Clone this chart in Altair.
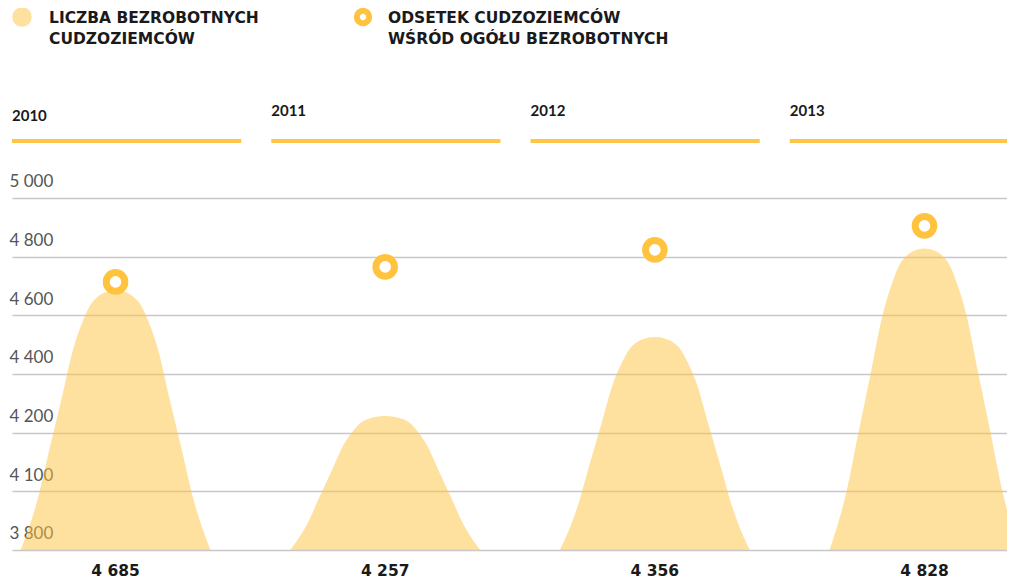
import altair as alt
import pandas as pd

# ---- data ----
years = [2010, 2011, 2012, 2013]
value_labels = [4685, 4257, 4356, 4828]        # printed under each hill
area_peak = [4685, 4257, 4526, 4828]           # drawn hill heights (axis units)
ring_level = [4714, 4765, 4823, 4905]          # ring markers (axis units)
y_ticks = [3800, 4000, 4200, 4400, 4600, 4800, 5000]
base_value = 3800

# hill profile: offset from centre (years) -> share of height
profile_offset = [0.0, 0.037, 0.067, 0.093, 0.122, 0.156, 0.200, 0.245, 0.289, 0.352]
profile_share = [1.0, 0.993, 0.975, 0.945, 0.88, 0.778, 0.584, 0.389, 0.195, 0.0]

legend_1 = "LICZBA BEZROBOTNYCH\nCUDZOZIEMCÓW"
legend_2 = "ODSETEK CUDZOZIEMCÓW\nWŚRÓD OGÓŁU BEZROBOTNYCH"

# ---- tables ----
rows = []
for yr, pk in zip(years, area_peak):
    for sign in (-1, 1):
        for off, sh in zip(profile_offset, profile_share):
            if sign == 1 and off == 0:
                continue
            rows.append({"year": yr, "x": yr + sign * off,
                         "v": base_value + sh * (pk - base_value)})
hills = pd.DataFrame(rows)
points = pd.DataFrame({"year": years, "ring": ring_level,
                       "label": [f"{v:,}".replace(",", " ") for v in value_labels]})
header = pd.DataFrame({"year": years})
one = pd.DataFrame({"k": [0]})

AREA = "#FFC340"
RING = "#FFC340"
LINE = "#FFC549"
DARK = "#1a1a1a"

xs = alt.Scale(domain=[2009.616, 2013.306], nice=False, zero=False)
ys = alt.Scale(domain=[3697.7, 5647.7], nice=False, zero=False)

yaxis = alt.Axis(
    values=y_ticks, grid=True, gridColor="#c8c8c8", gridWidth=1.5,
    domain=False, ticks=False, tickSize=0, labelAlign="left", labelPadding=3,
    labelBaseline="alphabetic", labelOffset=-11, labelFont="Lato",
    labelFontSize=17, labelColor="#555555", labelFlush=False, labelOverlap=False,
    labelExpr="datum.value == 4000 ? '4 100' : replace(format(datum.value, ','), ',', ' ')",
    title=None,
)

area = alt.Chart(hills).mark_area(color=AREA, opacity=0.5, interpolate="monotone", clip=True).encode(
    x=alt.X("x:Q", scale=xs, axis=None),
    y=alt.Y("v:Q", scale=ys, axis=yaxis),
    y2=alt.datum(base_value),
    detail="year:N",
)

rings = alt.Chart(points).mark_point(
    shape="circle", filled=True, fill="white", stroke=RING, strokeWidth=7,
    size=346, opacity=1,
).encode(
    x=alt.X("year:Q", scale=xs, axis=None),
    y=alt.Y("ring:Q", scale=ys),
)

labels = alt.Chart(points).mark_text(
    font="DejaVu Sans", fontWeight="bold", fontSize=15.5, color=DARK, baseline="alphabetic",
).encode(
    x=alt.X("year:Q", scale=xs, axis=None),
    y=alt.value(568),
    text="label:N",
)

main = alt.layer(area, rings, labels)

hscale = alt.Scale(range=[0, 1007], paddingInner=0.116, paddingOuter=0)
hbar = alt.Chart(header).mark_bar(color=LINE).encode(
    x=alt.X("year:O", scale=hscale, axis=None),
    y=alt.value(131), y2=alt.value(135),
)
htext_a = alt.Chart(header).transform_filter("datum.year == 2010").mark_text(
    align="left", baseline="middle", font="Lato", fontWeight="bold", fontSize=15, color=DARK,
).encode(
    x=alt.X("year:O", scale=hscale, axis=None, bandPosition=0),
    y=alt.value(108), text="year:N",
)
htext_b = alt.Chart(header).transform_filter("datum.year != 2010").mark_text(
    align="left", baseline="middle", font="Lato", fontWeight="bold", fontSize=15, color=DARK,
).encode(
    x=alt.X("year:O", scale=hscale, axis=None, bandPosition=0),
    y=alt.value(103), text="year:N",
)
head = alt.layer(hbar, htext_a, htext_b)

leg_dot = alt.Chart(one).mark_point(shape="circle", filled=True, color=AREA, opacity=0.5, size=380).encode(
    x=alt.value(10), y=alt.value(9))
leg_ring = alt.Chart(one).mark_point(shape="circle", filled=True, fill="white", stroke=RING,
                                     strokeWidth=6, size=154, opacity=1).encode(
    x=alt.value(351), y=alt.value(9))
leg_t1 = alt.Chart(one).mark_text(align="left", baseline="top", font="DejaVu Sans", fontWeight="bold",
                                  fontSize=15.5, lineBreak="\n", lineHeight=21, color=DARK).encode(
    x=alt.value(37), y=alt.value(3), text=alt.value(legend_1))
leg_t2 = alt.Chart(one).mark_text(align="left", baseline="top", font="DejaVu Sans", fontWeight="bold",
                                  fontSize=15.5, lineBreak="\n", lineHeight=21, color=DARK).encode(
    x=alt.value(376), y=alt.value(3), text=alt.value(legend_2))
legend = alt.layer(leg_dot, leg_ring, leg_t1, leg_t2)

chart = alt.layer(main, head, legend).resolve_scale(x="independent").properties(
    width=995, height=572,
    autosize=alt.AutoSizeParams(type="none"),
    padding={"left": 4, "top": 0, "right": 0, "bottom": 0},
    background="white",
).configure_view(strokeWidth=0)

chart.save("out.html", embed_options={"renderer": "svg", "actions": False})
